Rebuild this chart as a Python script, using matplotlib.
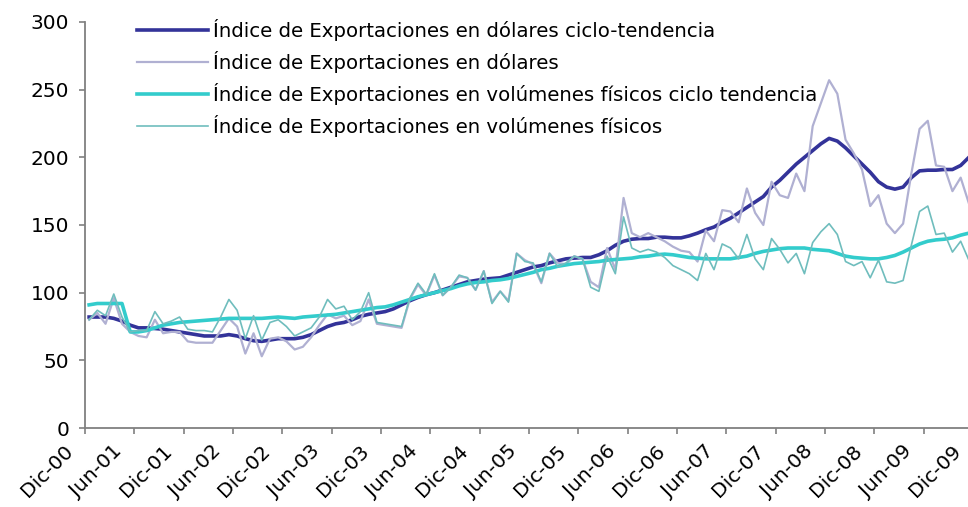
# -*- coding: utf-8 -*-
# Indices de exportaciones (dolares y volumenes fisicos), Dic-00 a Nov-09

import numpy as np
import matplotlib
matplotlib.use("Agg")
import matplotlib.pyplot as plt
import matplotlib.transforms as mtransforms

# %% datos mensuales, Dic-00 ... Nov-09

dolares_tend = [82, 82, 82, 81, 79, 76, 74, 74, 73.5, 73, 72, 71, 70, 69, 68, 68,
                68, 69, 68, 66, 64.5, 64, 65, 66, 66, 66, 67, 69, 72, 75, 77, 78,
                80, 82.5, 84, 85, 86, 88, 91, 94, 96.5, 98.5, 100, 102, 104, 106,
                108, 109, 110, 110.5, 111, 113, 115, 117, 119, 120, 122, 123.5,
                125, 125.5, 126, 126, 128, 131, 135, 138, 139.5, 140, 140, 141,
                141, 140.5, 140.5, 142, 144, 146.5, 148.5, 152, 155, 159, 163,
                167, 171, 178, 183, 189, 195, 200, 205, 210, 214, 212, 207, 201,
                195, 189, 182, 178, 176.5, 178, 185, 190, 190.5, 190.5, 191, 191,
                194, 200]

dolares = [80, 85, 77, 96, 77, 71, 68, 67, 80, 70, 71, 71, 64, 63, 63, 63, 72,
           81, 75, 55, 70, 53, 66, 67, 64, 58, 60, 67, 76, 84, 81, 83, 76, 79,
           95, 77, 76, 75, 74, 95, 106, 98, 113, 98, 104, 112, 111, 102, 116,
           93, 101, 94, 129, 124, 121, 107, 129, 122, 121, 127, 125, 108, 104,
           133, 117, 170, 144, 141, 144, 141, 138, 134, 131, 130, 123, 146,
           138, 161, 160, 152, 177, 159, 150, 182, 172, 170, 188, 175, 223,
           240, 257, 247, 213, 203, 191, 164, 172, 151, 144, 151, 188, 221,
           227, 194, 193, 175, 185, 166]

volumen_tend = [91, 92, 92, 92, 92, 71, 71, 72, 74, 76, 77, 78, 78.5, 79, 79.5,
                80, 80.5, 81, 81, 81, 81, 81, 81.5, 82, 81.5, 81, 82, 82.5, 83,
                83.5, 84, 85, 86, 87, 88, 89, 89.5, 91, 93, 95, 97, 98.5, 100,
                101.5, 103, 105, 106.5, 107.5, 108, 109, 109.5, 110.5, 112,
                113.5, 115, 117, 118, 119.5, 120.5, 121.5, 122, 122.5, 123, 124,
                124.5, 125, 125.5, 126.5, 127, 128, 128.5, 128, 127, 126, 125.5,
                125, 125, 125, 125, 126, 127, 129, 130.5, 131.5, 132.5, 133, 133,
                133, 132, 131.5, 131, 129, 127, 126, 125.5, 125, 125, 126, 127.5,
                130, 133, 136, 138, 139, 139.5, 140.5, 142.5, 144]

volumen = [80, 87, 83, 99, 82, 71, 72, 72, 86, 77, 79, 82, 73, 72, 72, 71, 82,
           95, 87, 66, 83, 65, 78, 80, 75, 68, 71, 74, 82, 95, 88, 90, 80, 86,
           100, 78, 77, 76, 75, 96, 107, 99, 114, 98, 104, 113, 111, 102, 116,
           92, 101, 93, 129, 123, 122, 108, 129, 119, 122, 127, 125, 104, 101,
           127, 114, 156, 133, 130, 132, 130, 126, 120, 117, 114, 109, 129,
           117, 136, 133, 125, 143, 125, 117, 140, 132, 122, 129, 114, 137,
           145, 151, 143, 123, 120, 123, 111, 124, 108, 107, 109, 135, 160,
           164, 143, 144, 130, 138, 124]

etiquetas = ["Dic-00", "Jun-01", "Dic-01", "Jun-02", "Dic-02", "Jun-03", "Dic-03",
             "Jun-04", "Dic-04", "Jun-05", "Dic-05", "Jun-06", "Dic-06", "Jun-07",
             "Dic-07", "Jun-08", "Dic-08", "Jun-09", "Dic-09"]

nombres = ["Índice de Exportaciones en dólares ciclo-tendencia",
           "Índice de Exportaciones en dólares",
           "Índice de Exportaciones en volúmenes físicos ciclo tendencia",
           "Índice de Exportaciones en volúmenes físicos"]

# %% grafico

plt.rcParams["font.family"] = ["DejaVu Sans"]

fig = plt.figure(figsize=(9.68, 5.07), dpi=100)
ax = fig.add_axes([85 / 968, 79 / 507, 888 / 968, 406 / 507])

x = np.arange(len(dolares)) + 0.5   # puntos centrados entre marcas

ax.plot(x, dolares_tend, color="#333399", linewidth=2.6, label=nombres[0])
ax.plot(x, dolares, color="#B0B0D2", linewidth=1.6, label=nombres[1])
ax.plot(x, volumen_tend, color="#33CCCC", linewidth=2.6, label=nombres[2])
ax.plot(x, volumen, color="#6FBDBD", linewidth=1.2, label=nombres[3])

ax.set_xlim(0, 108)
ax.set_ylim(0, 300)
ax.set_yticks(range(0, 301, 50))
ax.set_xticks(range(0, 109, 6))
ax.set_xticklabels(etiquetas, rotation=45, ha="right", va="center",
                   rotation_mode="anchor")

for s in ["top", "right"]:
    ax.spines[s].set_visible(False)
for s in ["left", "bottom"]:
    ax.spines[s].set_color("#808080")
    ax.spines[s].set_linewidth(1.3)

ax.tick_params(axis="both", colors="#808080", labelcolor="black",
               labelsize=14.5, length=4.5, width=1.2, direction="out")
ax.tick_params(axis="x", pad=10)
ax.tick_params(axis="y", pad=7)

desplaza = mtransforms.ScaledTranslation(-15 / 100, 0, fig.dpi_scale_trans)
for lab in ax.get_xticklabels():
    lab.set_transform(lab.get_transform() + desplaza)

ax.legend(loc="upper left", bbox_to_anchor=(137 / 968, 1 - 19 / 507),
          bbox_transform=fig.transFigure, frameon=False, fontsize=14.2,
          handlelength=3.6, handletextpad=0.26, labelspacing=0.5,
          borderpad=0, borderaxespad=0)

plt.savefig("out.png", dpi=100)
